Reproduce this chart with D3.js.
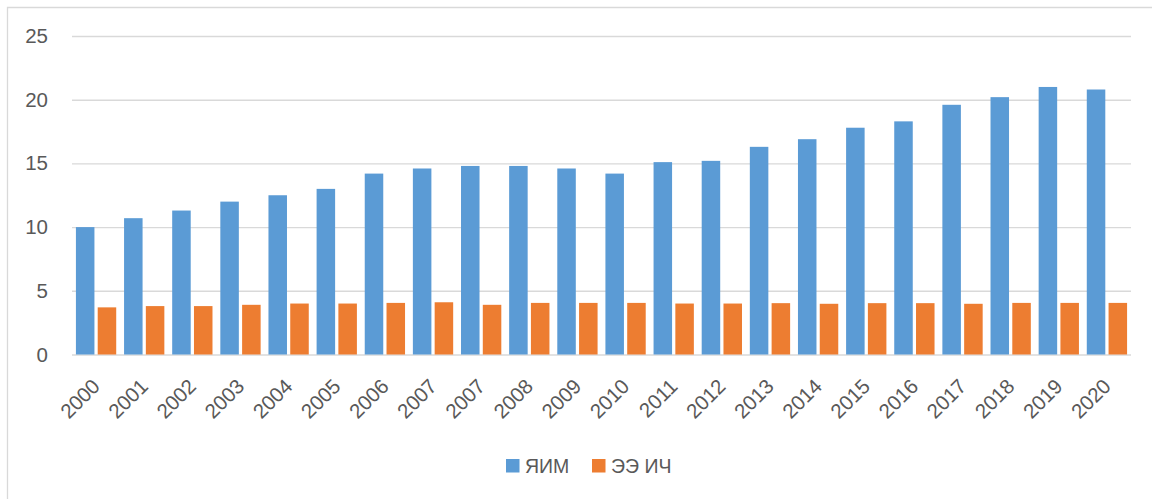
<!DOCTYPE html>
<html>
<head>
<meta charset="utf-8">
<script src="https://cdn.jsdelivr.net/npm/d3@7"></script>
<style>
  html, body { margin: 0; padding: 0; background: #fff; }
  svg { display: block; }
  text { font-family: "Liberation Sans", Arial, sans-serif; fill: #595959; }
</style>
</head>
<body>
<svg id="chart" width="1152" height="499"></svg>
<script>
// Year labels along the category axis (2007 is listed twice in the source table)
const years = ["2000", "2001", "2002", "2003", "2004", "2005", "2006", "2007", "2007", "2008",
               "2009", "2010", "2011", "2012", "2013", "2014", "2015", "2016", "2017", "2018",
               "2019", "2020"];

// Series values
const yimValues = [10.0, 10.7, 11.3, 12.0, 12.5, 13.0, 14.2, 14.6, 14.8, 14.8,
                   14.6, 14.2, 15.1, 15.2, 16.3, 16.9, 17.8, 18.3, 19.6, 20.2,
                   21.0, 20.8];
const eeValues  = [3.7, 3.8, 3.8, 3.9, 4.0, 4.0, 4.05, 4.1, 3.9, 4.05,
                   4.05, 4.05, 4.0, 4.0, 4.03, 3.98, 4.03, 4.03, 3.98, 4.05,
                   4.05, 4.05];

const seriesNames = ["ЯИМ", "ЭЭ ИЧ"];
const seriesColors = ["#5B9BD5", "#ED7D31"];
const yTicks = [0, 5, 10, 15, 20, 25];

const rows = years.map((y, i) => ({ idx: i, label: y, values: [yimValues[i], eeValues[i]] }));

const svg = d3.select("#chart");
const W = 1152, H = 499;
const plot = { left: 72, right: 1131, top: 36, bottom: 354.5 };
const gridColor = "#D9D9D9";

// Outer frame (top and left edges fall inside the page)
svg.append("path")
  .attr("d", `M7.5,${H} L7.5,7.5 L${W},7.5`)
  .attr("fill", "none")
  .attr("stroke", gridColor)
  .attr("stroke-width", 1.3);

const x = d3.scaleBand()
  .domain(rows.map(d => d.idx))
  .range([plot.left, plot.right])
  .paddingInner(0)
  .paddingOuter(0);

const xInner = d3.scaleBand()
  .domain([0, 1])
  .range([0, x.bandwidth()])
  .paddingInner(0.15)
  .paddingOuter(0.18);

const y = d3.scaleLinear()
  .domain([0, 25])
  .range([plot.bottom, plot.top]);

// Horizontal gridlines + value labels
const yAxis = d3.axisLeft(y)
  .tickValues(yTicks)
  .tickSize(-(plot.right - plot.left))
  .tickPadding(24)
  .tickFormat(d3.format("d"));

const gy = svg.append("g")
  .attr("transform", `translate(${plot.left},0)`)
  .call(yAxis);
gy.select(".domain").remove();
gy.selectAll(".tick line")
  .attr("stroke", gridColor)
  .attr("stroke-width", 1.4);
gy.selectAll(".tick text")
  .attr("font-size", 20.5)
  .attr("fill", "#595959")
  .style("font-family", '"Liberation Sans", Arial, sans-serif');

// Bars
const groups = svg.append("g")
  .selectAll("g")
  .data(rows)
  .join("g")
  .attr("transform", d => `translate(${x(d.idx)},0)`);

groups.selectAll("rect")
  .data(d => d.values.map((v, k) => ({ k, v })))
  .join("rect")
  .attr("x", d => xInner(d.k))
  .attr("width", xInner.bandwidth())
  .attr("y", d => y(d.v))
  .attr("height", d => y(0) - y(d.v))
  .attr("fill", d => seriesColors[d.k]);

// Category axis labels, rotated
const xAxis = d3.axisBottom(x)
  .tickSize(0)
  .tickPadding(0)
  .tickFormat(i => years[i]);

const gx = svg.append("g")
  .attr("transform", `translate(0,${plot.bottom})`)
  .call(xAxis);
gx.select(".domain").remove();
gx.selectAll(".tick text")
  .attr("font-size", 20.5)
  .attr("fill", "#595959")
  .style("font-family", '"Liberation Sans", Arial, sans-serif')
  .attr("text-anchor", "end")
  .attr("dy", "0.35em")
  .attr("y", 0)
  .attr("transform", "translate(0,28) rotate(-45)");

// Legend
const legendItems = [
  { name: seriesNames[0], color: seriesColors[0], x: 506 },
  { name: seriesNames[1], color: seriesColors[1], x: 592 }
];
const lg = svg.append("g");
legendItems.forEach(item => {
  lg.append("rect")
    .attr("x", item.x)
    .attr("y", 459)
    .attr("width", 13.5)
    .attr("height", 13.5)
    .attr("fill", item.color);
  lg.append("text")
    .attr("x", item.x + 19)
    .attr("y", 472.5)
    .attr("font-size", 19.5)
    .text(item.name);
});
</script>
</body>
</html>
